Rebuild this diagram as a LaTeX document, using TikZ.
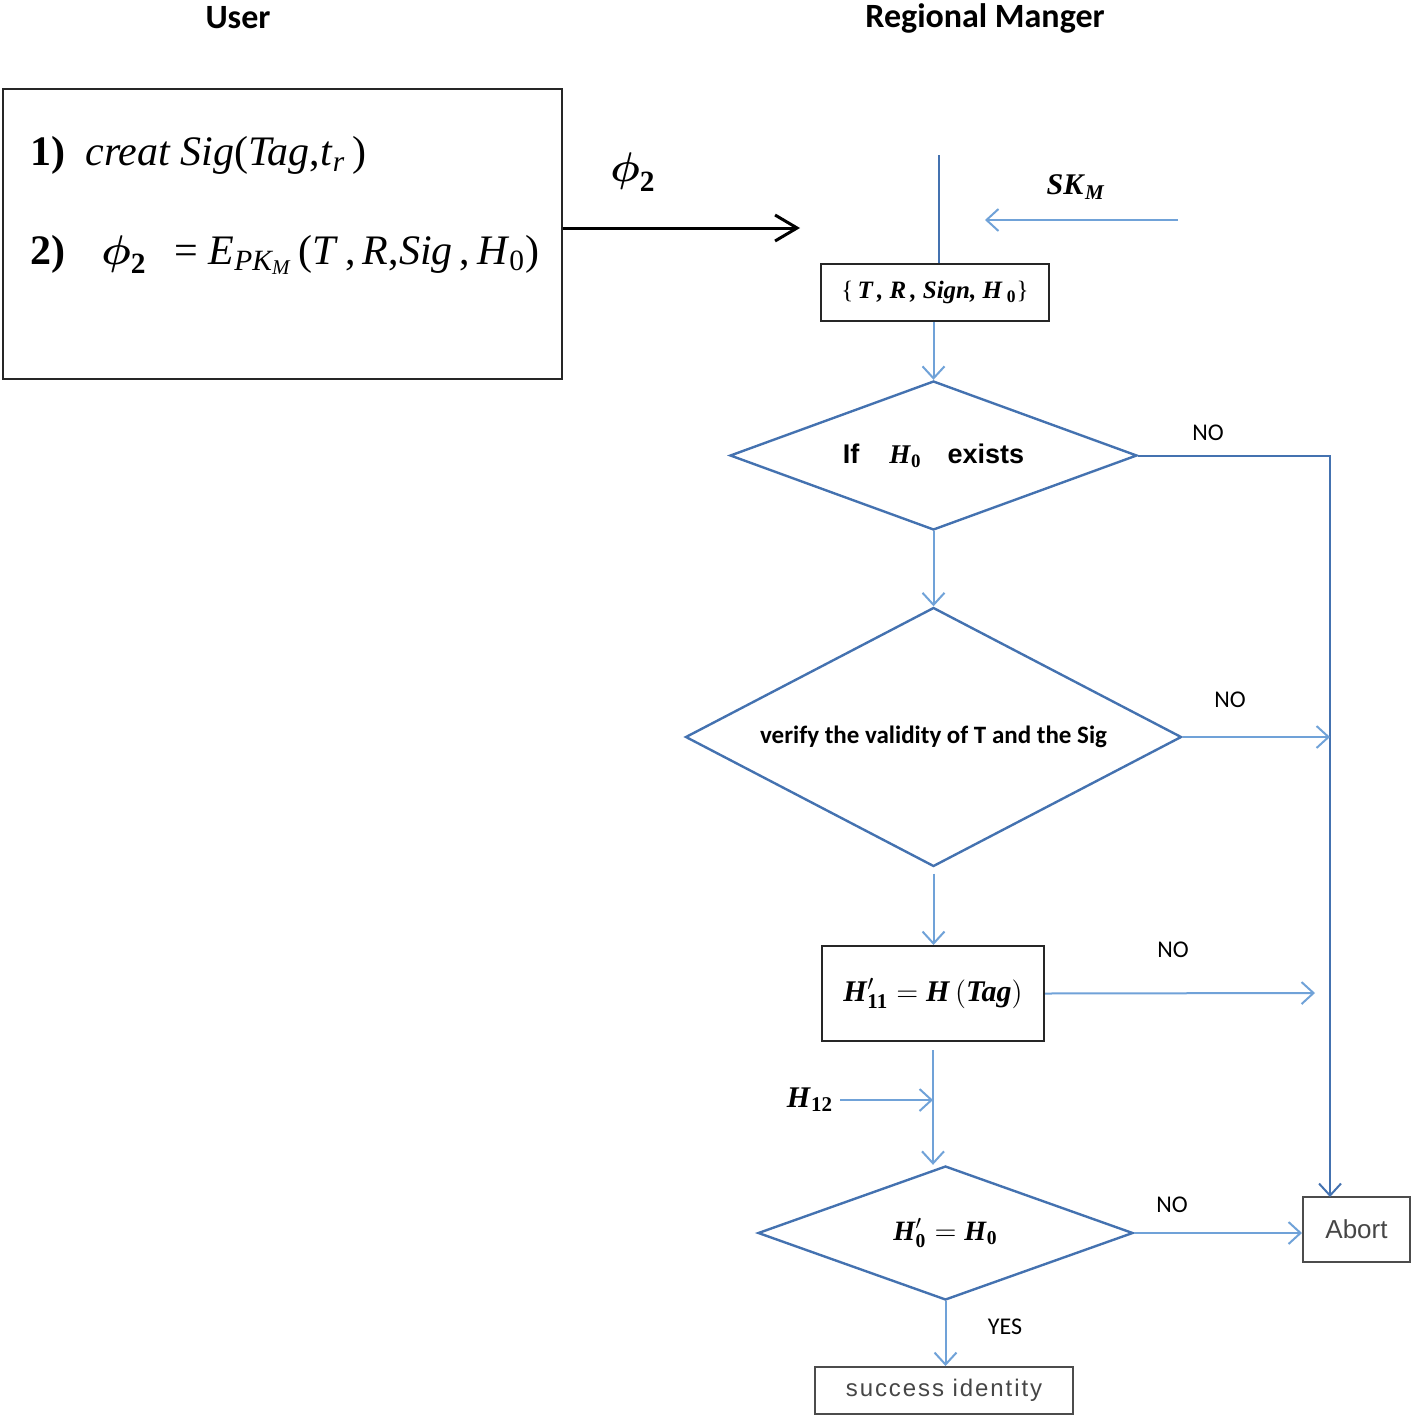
\documentclass[tikz,border=0pt]{standalone}
\usepackage{fontspec}
\usepackage{amsmath}
\setmainfont{Liberation Serif}
\newfontfamily\calibri{Carlito}
\newfontfamily\arial{Liberation Sans}
\newfontfamily\arialsp[LetterSpace=8]{Liberation Sans}
\usetikzlibrary{shapes.geometric,arrows.meta,positioning}
\definecolor{dblue}{RGB}{68,114,176}
\definecolor{lblue}{RGB}{112,162,216}
\definecolor{txtgray}{RGB}{70,70,70}

\begin{document}
\begin{tikzpicture}[x=0.5pt,y=-0.5pt,
	box/.style={draw=black!85,line width=1pt,rectangle,inner sep=0pt},
	dec/.style={draw=dblue,line width=1.2pt,diamond,inner sep=0pt},
	flow/.style={draw=lblue,line width=1pt,-{Straight Barb[length=6pt,width=11pt]}},
	nolab/.style={font=\calibri\fontsize{12}{14}\selectfont}]
	\useasboundingbox (0,0) rectangle (1414,1418);
	% headings
	\node (huser) at (238,18) {\calibri\bfseries\fontsize{17}{20}\selectfont User};
	\node (hmgr) at (985,18) {\calibri\bfseries\fontsize{17}{20}\selectfont Regional Manger};
	% user side
	\node[box,minimum width=279.5pt,minimum height=145pt] (user) at (282.5,234) {};
	\node[anchor=west,inner sep=0pt,font=\fontsize{21}{25}\selectfont] (step1) at (30,155)
		{{\bfseries 1)}\hspace{10pt}\textit{creat Sig}(\textit{Tag},\textit{t}$_{\textit{r}}$\,)};
	\node[anchor=west,inner sep=0pt,font=\fontsize{21}{25}\selectfont] (step2) at (30,255)
		{{\bfseries 2)}\hspace{18pt}$\boldsymbol{\phi}_{\textbf{2}}$\hspace{14pt}= \textit{E}$_{\textit{PK}_{\textit{M}}}$\,(\textit{T}\,,\,\textit{R},\textit{Sig}\,,\,\textit{H}$_{\text{0}}$)};
	\coordinate (phiend) at (800,228);
	\draw[line width=1.5pt,-{Straight Barb[length=11pt,width=13pt]}] (user.east |- phiend) -- (phiend);
	\node[font=\fontsize{21}{25}\selectfont] (phi) at (633,172) {$\boldsymbol{\phi}_{\textbf{2}}$};
	% regional manager side
	\node[box,minimum width=114pt,minimum height=28.5pt] (recv) at (935,292.5)
		{\fontsize{12.5}{15}\selectfont\{\,\textbf{\textit{T\,, R\,, Sign, H}}\,$_{\textbf{0}}$\}};
	\coordinate (top) at (939,155);
	\draw[draw=dblue,line width=1pt] (top) -- (top |- recv.north);
	\node[font=\fontsize{15}{18}\selectfont] (sk) at (1076,187) {\textbf{\textit{SK}}$_{\textbf{\textit{M}}}$};
	\coordinate (skstart) at (1178,220);
	\coordinate (skend) at (985,220);
	\draw[flow] (skstart) -- (skend);
	\node[dec,minimum width=203.5pt,minimum height=74.5pt,aspect=2.73] (d1) at (933.5,455.5)
		{\fontsize{13.5}{16}\selectfont{\arial\bfseries If}\hspace{15pt}\textbf{\textit{H}}$_{\textbf{0}}$\hspace{13pt}{\arial\bfseries exists}};
	\node[dec,minimum width=248pt,minimum height=129.5pt,aspect=1.9] (d2) at (933.5,737)
		{\calibri\bfseries\fontsize{12.5}{15}\selectfont verify the validity of T and the Sig};
	\node[box,minimum width=111pt,minimum height=47.5pt] (hbox) at (933,993.5)
		{\fontsize{15}{18}\selectfont$\textbf{\textit{H}}'_{\textbf{11}} = \textbf{\textit{H}}\,(\textbf{\textit{Tag}})$};
	\node[dec,minimum width=187.5pt,minimum height=67pt,aspect=2.8] (d3) at (945.5,1233)
		{\fontsize{14}{17}\selectfont$\textbf{\textit{H}}'_{\textbf{0}} = \textbf{\textit{H}}_{\textbf{0}}$};
	\node[box,draw=black!70,minimum width=53.5pt,minimum height=32.5pt] (abort) at (1356.5,1229.5)
		{\arial\fontsize{13}{15}\selectfont\color{txtgray}Abort};
	\node[box,draw=black!70,minimum width=129pt,minimum height=23.5pt] (succ) at (944,1390.5)
		{\arialsp\fontsize{12}{14}\selectfont\color{txtgray}success identity};
	\node[font=\fontsize{15}{18}\selectfont] (h12) at (810,1100) {\textbf{\textit{H}}$_{\textbf{12}}$};
	% connectors
	\coordinate (drop) at (1330,1197);
	\draw[flow] (recv.south -| d1.north) -- (d1.north);
	\draw[flow,draw=dblue] (d1.east) -- (d1.east -| drop) -- (drop);
	\draw[flow] (d1.south) -- (d2.north);
	\draw[flow] (d2.east) -- (d2.east -| drop);
	\draw[flow,shorten <=3pt] (d2.south) -- (d2.south |- hbox.north);
	\draw[flow] (hbox.east) -- (1315,993);
	\draw[flow,shorten <=4pt] (hbox.south) -- (hbox.south |- d3.north);
	\draw[flow] (h12.east) -- (hbox.south |- h12.east);
	\draw[flow] (d3.east) -- (d3.east -| abort.west);
	\draw[flow] (d3.south) -- (d3.south |- succ.north);
	% branch labels
	\node[nolab] (no1) at (1208,433) {NO};
	\node[nolab] (no2) at (1230,700) {NO};
	\node[nolab] (no3) at (1173,950) {NO};
	\node[nolab] (no4) at (1172,1205) {NO};
	\node[nolab] (yes) at (1005,1327) {YES};
\end{tikzpicture}
\end{document}
